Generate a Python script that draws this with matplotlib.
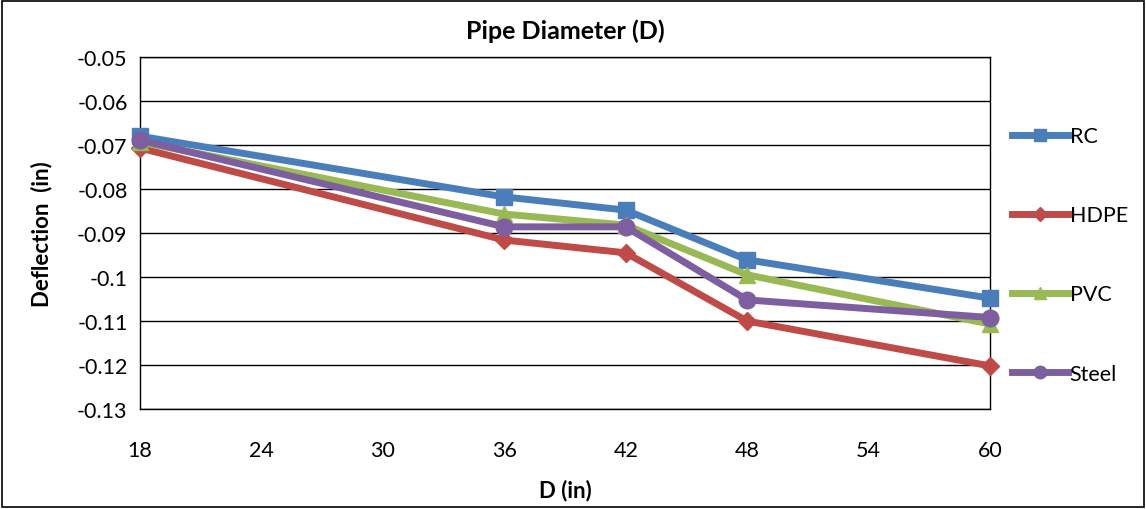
import matplotlib.pyplot as plt
from matplotlib.patches import Rectangle

plt.rcParams['font.family'] = ['Lato', 'DejaVu Sans']

diameters = [18, 36, 42, 48, 60]
rc = [-0.0680, -0.0818, -0.0848, -0.0961, -0.1048]
hdpe = [-0.0707, -0.0916, -0.0945, -0.1100, -0.1202]
pvc = [-0.0693, -0.0857, -0.0882, -0.0995, -0.1107]
steel = [-0.0689, -0.0886, -0.0886, -0.1052, -0.1092]

series = [
    ('RC', rc, '#4a7ebb', 's', 12),
    ('HDPE', hdpe, '#be4b48', 'D', 9),
    ('PVC', pvc, '#98b954', '^', 12),
    ('Steel', steel, '#7d5fa0', 'o', 12),
]

fig = plt.figure(figsize=(11.46, 5.10), dpi=100)
fig.patches.append(Rectangle((0.002, 0.004), 0.996, 0.992, transform=fig.transFigure,
                             fill=False, edgecolor='black', linewidth=1.2))
ax = fig.add_axes([0.1222, 0.196, 0.7417, 0.6903])

for name, vals, color, marker, ms in series:
    ax.plot(diameters, vals, color=color, linewidth=5, marker=marker,
            markersize=ms, label=name, clip_on=False, zorder=3)

ax.set_xlim(18, 60)
ax.set_ylim(-0.13, -0.05)
ax.set_xticks([18, 24, 30, 36, 42, 48, 54, 60])
ax.set_yticks([-0.13, -0.12, -0.11, -0.1, -0.09, -0.08, -0.07, -0.06, -0.05])
ax.set_yticklabels(['-0.13', '-0.12', '-0.11', '-0.1', '-0.09', '-0.08', '-0.07', '-0.06', '-0.05'])
ax.yaxis.grid(True, color='black', linewidth=1)
ax.set_axisbelow(True)
for s in ax.spines.values():
    s.set_color('black')
    s.set_linewidth(1)
ax.tick_params(axis='both', length=0, labelsize=15.5)
ax.tick_params(axis='y', pad=9)
ax.tick_params(axis='x', pad=22)

ax.set_title('Pipe Diameter (D)', fontsize=18, fontweight='bold', pad=14)
ax.set_xlabel('D (in)', fontsize=16, fontweight='bold', labelpad=14)
ax.set_ylabel('Deflection  (in)', fontsize=16, fontweight='bold', labelpad=18)

ax.legend(loc='upper left', bbox_to_anchor=(1.0, 0.865), frameon=False,
          fontsize=15.5, labelspacing=2.75, handlelength=2.6, handletextpad=0.1,
          borderaxespad=0.6, markerscale=0.75)

fig.savefig('out.png', dpi=100)
